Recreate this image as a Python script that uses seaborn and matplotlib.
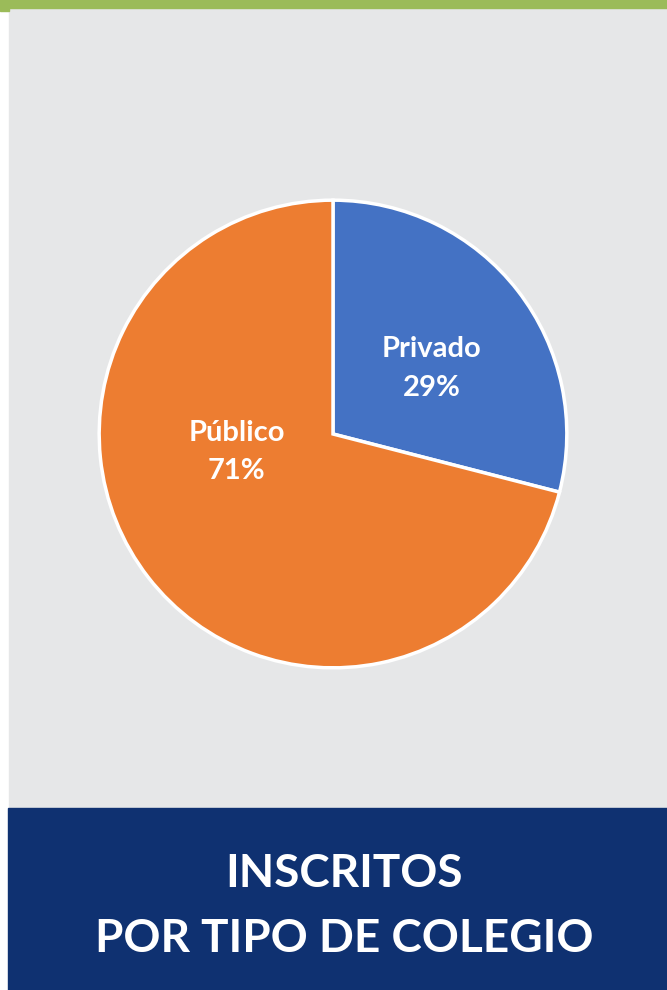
import matplotlib.pyplot as plt
import seaborn as sns
from matplotlib.patches import Rectangle

sns.set_theme(style="white")
plt.rcParams['font.family'] = ['Lato', 'DejaVu Sans']

# data
categorias = ["Privado", "Público"]
porcentajes = [29, 71]
colores = ["#4472C4", "#ED7D31"]
titulo = ["INSCRITOS", "POR TIPO DE COLEGIO"]

W, H = 667, 990
fig = plt.figure(figsize=(W / 100, H / 100), dpi=100)
fig.patch.set_facecolor("white")

# background blocks (pixel coords converted to figure fraction)
def rect(x0, y0, x1, y1, color):
    fig.patches.append(Rectangle((x0 / W, 1 - y1 / H), (x1 - x0) / W, (y1 - y0) / H,
                                 transform=fig.transFigure, color=color, zorder=-10))

rect(9, 8, W, 808, "#E6E7E8")
rect(0, 0, W, 8, "#9BBB59")
rect(0, 0, 9, 11, "#9BBB59")
rect(8, 808, W, H, "#0F3171")

# pie
cx, cy, r = 333, 434, 235
ax = fig.add_axes([(cx - r) / W, 1 - (cy + r) / H, 2 * r / W, 2 * r / H])
ax.set_zorder(5)
ax.pie(porcentajes, colors=colores, startangle=90, counterclock=False,
       wedgeprops=dict(edgecolor="white", linewidth=2.5))
ax.set_xlim(-1.005, 1.005)
ax.set_ylim(-1.005, 1.005)
ax.set_aspect("equal")
ax.axis("off")

# label positions (pie units)
pos = [(0.421, 0.281), (-0.413, -0.077)]
for cat, p, (x, y) in zip(categorias, porcentajes, pos):
    ax.text(x, y, f"{cat}\n{p}%", ha="center", va="center", color="white",
            fontsize=21, fontweight="bold", linespacing=1.6)

fig.text(344 / W, 1 - 874 / H, titulo[0], ha="center", va="center", color="white",
         fontsize=33, fontweight="bold")
fig.text(344 / W, 1 - 939 / H, titulo[1], ha="center", va="center", color="white",
         fontsize=33, fontweight="bold")

fig.savefig("out.png", dpi=100, facecolor=fig.get_facecolor())
